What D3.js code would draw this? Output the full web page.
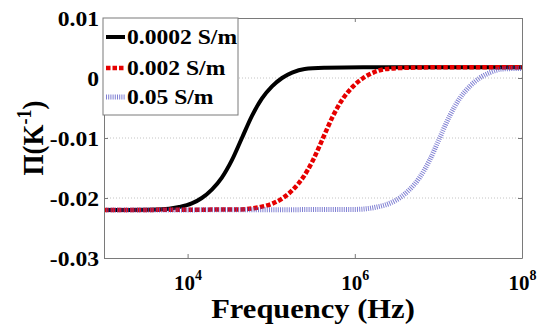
<!DOCTYPE html>
<html>
<head>
<meta charset="utf-8">
<script src="https://cdn.jsdelivr.net/npm/d3@7"></script>
</head>
<body style="margin:0; background:#fff">
<svg id="chart" width="538" height="328"></svg>
<script>
// data (frequency in Hz, value in 1/K)
const seriesNames = ['0.0002 S/m', '0.002 S/m', '0.05 S/m'];

const freqLow = [1000, 4467, 7943, 11220, 14790, 19500, 25700, 33880, 44670,
  58880, 77620, 102300, 134900, 177800, 251200, 446700, 1259000, 1e8];
const valLow = [-0.0220, -0.0219, -0.0215, -0.0209, -0.0200, -0.0186, -0.0166, -0.0137, -0.0100,
  -0.0063, -0.0034, -0.0014, 0.0000, 0.0009, 0.0015, 0.0017, 0.0018, 0.0018];

const freqMid = [1000, 41690, 74130, 104700, 138000, 182000, 239900, 316200, 416900,
  549500, 724400, 955000, 1259000, 1660000, 2344000, 4169000, 11750000, 1e8];
const valMid = [-0.0220, -0.0219, -0.0215, -0.0209, -0.0200, -0.0186, -0.0166, -0.0137, -0.0100,
  -0.0063, -0.0034, -0.0014, 0.0000, 0.0009, 0.0015, 0.0017, 0.0018, 0.0018];

const freqHigh = [1000, 1035000, 1841000, 2600000, 3428000, 4519000, 5957000, 7852000, 10350000,
  13650000, 17990000, 23710000, 31260000, 41210000, 58210000, 1e8];
const valHigh = [-0.0220, -0.0219, -0.0215, -0.0209, -0.0200, -0.0186, -0.0166, -0.0137, -0.0100,
  -0.0063, -0.0034, -0.0014, 0.0000, 0.0009, 0.0015, 0.0016];

const yTicks = [-0.03, -0.02, -0.01, 0, 0.01];
const yTickLabels = ['-0.03', '-0.02', '-0.01', '0', '0.01'];
const yGrid = [-0.02, -0.01, 0];
const xTicks = [1e4, 1e6, 1e8];
const xTickExp = ['4', '6', '8'];

const FONT = 'Liberation Serif';
const SX = 1.18; // the original lettering is a bit wider than Times
const margin = { top: 18, right: 16, bottom: 70, left: 104 };
const W = 538, H = 328;
const w = W - margin.left - margin.right;
const h = H - margin.top - margin.bottom;

const svg = d3.select('#chart');
const g = svg.append('g').attr('transform', `translate(${margin.left},${margin.top})`);

const x = d3.scaleLog().domain([1e3, 1e8]).range([0, w]);
const y = d3.scaleLinear().domain([-0.03, 0.01]).range([h, 0]);

function font(sel, size) {
  sel.attr('font-family', FONT).attr('font-weight', 'bold').attr('font-size', size).attr('fill', '#000');
}

// dotted grid
g.append('g')
  .selectAll('line')
  .data(yGrid)
  .join('line')
  .attr('x1', 0).attr('x2', w)
  .attr('y1', d => y(d)).attr('y2', d => y(d))
  .attr('stroke', '#c4c4c4')
  .attr('stroke-width', 1)
  .attr('stroke-dasharray', '1,2');

// curves
const line = d3.line()
  .x(d => x(d[0]))
  .y(d => y(d[1]))
  .curve(d3.curveMonotoneX);

const styles = [
  { color: '#000', width: 4, dash: null, opacity: 1 },
  { color: '#e60000', width: 4.5, dash: '4.5,2', opacity: 1 },
  { color: '#4a4ac0', width: 5, dash: '1,1.2', opacity: 0.7 }
];
const series = [
  d3.zip(freqLow, valLow),
  d3.zip(freqMid, valMid),
  d3.zip(freqHigh, valHigh)
];

svg.append('clipPath').attr('id', 'plotclip')
  .append('rect').attr('x', 0).attr('y', -4).attr('width', w).attr('height', h + 8);

g.append('g')
  .attr('clip-path', 'url(#plotclip)')
  .selectAll('path')
  .data(series)
  .join('path')
  .attr('d', line)
  .attr('fill', 'none')
  .attr('stroke', (d, i) => styles[i].color)
  .attr('stroke-width', (d, i) => styles[i].width)
  .attr('stroke-dasharray', (d, i) => styles[i].dash)
  .attr('stroke-opacity', (d, i) => styles[i].opacity)
  .attr('stroke-linejoin', 'round');

// axes: box with inward ticks on all sides
const axisColor = '#7a7a7a';
const yAxis = g.append('g')
  .call(d3.axisLeft(y).tickValues(yTicks).tickSizeInner(-4).tickSizeOuter(0).tickPadding(5)
    .tickFormat((d, i) => yTickLabels[i]));
g.append('g').attr('transform', `translate(${w},0)`)
  .call(d3.axisRight(y).tickValues(yTicks).tickSizeInner(-4).tickSizeOuter(0).tickFormat(''));
const xAxis = g.append('g').attr('transform', `translate(0,${h})`)
  .call(d3.axisBottom(x).tickValues(xTicks).tickSizeInner(-4).tickSizeOuter(0).tickFormat(''));
g.append('g')
  .call(d3.axisTop(x).tickValues(xTicks).tickSizeInner(-4).tickSizeOuter(0).tickFormat(''));

g.selectAll('g').attr('font-family', FONT);
g.selectAll('.domain').attr('stroke', axisColor);
g.selectAll('.tick line').attr('stroke', axisColor);

yAxis.selectAll('.tick text')
  .call(font, 20)
  .attr('x', 0)
  .attr('dy', '0.36em')
  .attr('transform', `translate(-5,0) scale(${SX},1)`);

// x tick labels as 10 with superscript exponent
xAxis.selectAll('.tick').each(function(d, i) {
  const t = d3.select(this).append('text')
    .attr('y', 32)
    .attr('text-anchor', 'middle')
    .call(font, 21);
  t.append('tspan').text('10');
  t.append('tspan').attr('dy', -10).attr('font-size', 14).text(xTickExp[i]);
});

// axis titles
svg.append('text')
  .attr('transform', `translate(${margin.left + w / 2},318) scale(1.09,1)`)
  .attr('text-anchor', 'middle')
  .call(font, 28)
  .text('Frequency (Hz)');

const yl = svg.append('text')
  .attr('transform', 'translate(43,138) scale(1.12,1) rotate(-90)')
  .attr('text-anchor', 'middle')
  .call(font, 27);
yl.append('tspan').text('\u03A0(K');
yl.append('tspan').attr('dy', -11).attr('font-size', 18).text('-1');
yl.append('tspan').attr('dy', 11).text(')');

// legend
const lg = g.append('g');
lg.append('rect')
  .attr('x', -1).attr('y', 0)
  .attr('width', 135).attr('height', 97)
  .attr('fill', '#fff')
  .attr('stroke', axisColor);

const rowY = [19, 50, 79];
const rows = lg.selectAll('g.row')
  .data(seriesNames)
  .join('g')
  .attr('class', 'row')
  .attr('transform', (d, i) => `translate(0,${rowY[i]})`);

rows.append('line')
  .attr('x1', 2).attr('x2', 21)
  .attr('y1', 0).attr('y2', 0)
  .attr('stroke', (d, i) => styles[i].color)
  .attr('stroke-width', (d, i) => styles[i].width)
  .attr('stroke-dasharray', (d, i) => styles[i].dash)
  .attr('stroke-opacity', (d, i) => styles[i].opacity);

rows.append('text')
  .attr('transform', `translate(23,7) scale(${SX},1)`)
  .call(font, 20)
  .text(d => d);
</script>
</body>
</html>
